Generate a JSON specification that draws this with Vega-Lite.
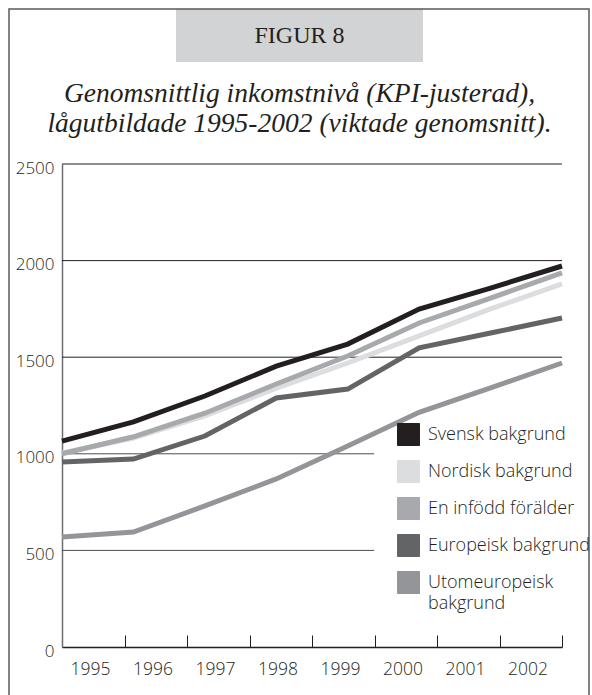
{
  "$schema": "https://vega.github.io/schema/vega-lite/v6.json",
  "background": "white",
  "padding": {"left": 8, "top": 8, "right": 0, "bottom": 0},
  "spacing": 53,
  "bounds": "flush",
  "vconcat": [
    {
      "spacing": 0,
      "bounds": "flush",
      "hconcat": [
        {
          "width": 167,
          "height": 53,
          "view": {"stroke": "#58595b", "strokeWidth": 1.5, "strokeDash": [167, 220, 53]},
          "data": {"values": []},
          "mark": {"type": "text"},
          "encoding": {"text": {"field": "t", "type": "nominal"}}
        },
        {
          "width": 247,
          "height": 53,
          "view": {"fill": "#d1d3d4", "stroke": "#58595b", "strokeWidth": 1.5, "strokeDash": [247, 353]},
          "title": {
            "text": ["Genomsnittlig inkomstnivå (KPI-justerad),", "lågutbildade 1995-2002 (viktade genomsnitt)."],
            "orient": "bottom",
            "anchor": "middle",
            "frame": "group",
            "offset": 18,
            "font": "Liberation Serif",
            "fontStyle": "italic",
            "fontWeight": "normal",
            "fontSize": 27.5,
            "lineHeight": 30,
            "color": "#231f20"
          },
          "data": {"values": [{"label": "FIGUR 8"}]},
          "mark": {"type": "text", "font": "Liberation Serif", "fontSize": 24, "letterSpacing": 3, "color": "#231f20", "align": "center", "baseline": "middle"},
          "encoding": {"text": {"field": "label", "type": "nominal"}}
        },
        {
          "width": 166,
          "height": 53,
          "view": {"stroke": "#58595b", "strokeWidth": 1.5, "strokeDash": [219, 219]},
          "data": {"values": []},
          "mark": {"type": "text"},
          "encoding": {"text": {"field": "t", "type": "nominal"}}
        }
      ]
    },
    {
      "width": 580,
      "height": 634,
      "view": {"stroke": "#58595b", "strokeWidth": 1.5, "strokeDash": [0, 580, 634, 580, 634]},
      "layer": [
        {
          "data": {"values": [{"g": 1500}, {"g": 2000}, {"g": 2500}]},
          "mark": {"type": "rule", "color": "#231f20", "strokeWidth": 1},
          "encoding": {
            "y": {"field": "g", "type": "quantitative", "title": null, "scale": {"domain": [0, 2500], "range": [585, 102], "nice": false, "zero": false}},
            "x": {"datum": 1995, "type": "quantitative", "title": null, "scale": {"domain": [1995, 2002], "range": [53, 553], "nice": false, "zero": false}},
            "x2": {"datum": 2002}
          }
        },
        {
          "data": {"values": [{"g": 500}, {"g": 1000}]},
          "mark": {"type": "rule", "color": "#4d4d4f", "strokeWidth": 1},
          "encoding": {
            "y": {"field": "g", "type": "quantitative", "title": null},
            "x": {"datum": 1995, "type": "quantitative", "title": null},
            "x2": {"datum": 1999.37}
          }
        },
        {
          "data": {"values": [
            {"year": 1995, "group": "Svensk bakgrund", "value": 1066},
            {"year": 1996, "group": "Svensk bakgrund", "value": 1165},
            {"year": 1997, "group": "Svensk bakgrund", "value": 1299},
            {"year": 1998, "group": "Svensk bakgrund", "value": 1454},
            {"year": 1999, "group": "Svensk bakgrund", "value": 1568},
            {"year": 2000, "group": "Svensk bakgrund", "value": 1749},
            {"year": 2001, "group": "Svensk bakgrund", "value": 1858},
            {"year": 2002, "group": "Svensk bakgrund", "value": 1972},
            {"year": 1995, "group": "Nordisk bakgrund", "value": 1004},
            {"year": 1996, "group": "Nordisk bakgrund", "value": 1082},
            {"year": 1997, "group": "Nordisk bakgrund", "value": 1196},
            {"year": 1998, "group": "Nordisk bakgrund", "value": 1340},
            {"year": 1999, "group": "Nordisk bakgrund", "value": 1470},
            {"year": 2000, "group": "Nordisk bakgrund", "value": 1610},
            {"year": 2001, "group": "Nordisk bakgrund", "value": 1750},
            {"year": 2002, "group": "Nordisk bakgrund", "value": 1879},
            {"year": 1995, "group": "En infödd förälder", "value": 1000},
            {"year": 1996, "group": "En infödd förälder", "value": 1088},
            {"year": 1997, "group": "En infödd förälder", "value": 1210},
            {"year": 1998, "group": "En infödd förälder", "value": 1361},
            {"year": 1999, "group": "En infödd förälder", "value": 1506},
            {"year": 2000, "group": "En infödd förälder", "value": 1677},
            {"year": 2001, "group": "En infödd förälder", "value": 1806},
            {"year": 2002, "group": "En infödd förälder", "value": 1936},
            {"year": 1995, "group": "Europeisk bakgrund", "value": 958},
            {"year": 1996, "group": "Europeisk bakgrund", "value": 973},
            {"year": 1997, "group": "Europeisk bakgrund", "value": 1092},
            {"year": 1998, "group": "Europeisk bakgrund", "value": 1289},
            {"year": 1999, "group": "Europeisk bakgrund", "value": 1335},
            {"year": 2000, "group": "Europeisk bakgrund", "value": 1548},
            {"year": 2001, "group": "Europeisk bakgrund", "value": 1625},
            {"year": 2002, "group": "Europeisk bakgrund", "value": 1703},
            {"year": 1995, "group": "Utomeuropeisk bakgrund", "value": 569},
            {"year": 1996, "group": "Utomeuropeisk bakgrund", "value": 595},
            {"year": 1997, "group": "Utomeuropeisk bakgrund", "value": 730},
            {"year": 1998, "group": "Utomeuropeisk bakgrund", "value": 870},
            {"year": 1999, "group": "Utomeuropeisk bakgrund", "value": 1040},
            {"year": 2000, "group": "Utomeuropeisk bakgrund", "value": 1215},
            {"year": 2001, "group": "Utomeuropeisk bakgrund", "value": 1341},
            {"year": 2002, "group": "Utomeuropeisk bakgrund", "value": 1470}
          ]},
          "mark": {"type": "line", "strokeWidth": 5, "strokeJoin": "miter"},
          "encoding": {
            "x": {
              "field": "year", "type": "quantitative", "title": null,
              "axis": {
                "orient": "bottom", "offset": -49, "grid": false, "title": null,
                "values": [1995, 1995.875, 1996.75, 1997.625, 1998.5, 1999.375, 2000.25, 2001.125, 2002],
                "domainColor": "#231f20", "domainWidth": 1.5,
                "tickColor": "#231f20", "tickWidth": 1, "tickSize": -12,
                "labelExpr": "datum.value < 2001.9 ? '' + (1995 + round((datum.value - 1995) / 0.875)) : ''",
                "labelOffset": 28,
                "labelFont": "Open Sans", "labelFontSize": 17.5, "labelFontWeight": 300, "labelColor": "#231f20",
                "labelPadding": 25, "labelFlush": false, "labelOverlap": false, "labelBound": false
              }
            },
            "y": {
              "field": "value", "type": "quantitative", "title": null,
              "axis": {
                "orient": "left", "offset": -53, "grid": false, "ticks": false, "title": null,
                "values": [0, 500, 1000, 1500, 2000, 2500], "format": "d",
                "domainColor": "#6d6e71", "domainWidth": 1.5,
                "labelFont": "Open Sans", "labelFontSize": 17, "labelFontWeight": 300, "labelColor": "#231f20",
                "labelPadding": 8, "labelOffset": 4, "labelFlush": false, "labelOverlap": false, "labelBound": false
              }
            },
            "color": {
              "field": "group", "type": "nominal",
              "scale": {
                "domain": ["Svensk bakgrund", "Nordisk bakgrund", "En infödd förälder", "Europeisk bakgrund", "Utomeuropeisk bakgrund"],
                "range": ["#231f20", "#dcdddf", "#a7a9ac", "#636466", "#939598"]
              },
              "legend": {
                "orient": "none", "legendX": 388, "legendY": 414, "title": null,
                "symbolType": "square", "symbolSize": 484, "symbolStrokeWidth": 1, "symbolStrokeColor": "#231f20",
                "labelFont": "Open Sans", "labelFontSize": 18, "labelFontWeight": 300, "labelColor": "#231f20",
                "labelOffset": 8, "rowPadding": 10, "labelLimit": 300,
                "labelExpr": "datum.label == 'Utomeuropeisk bakgrund' ? ['Utomeuropeisk', 'bakgrund'] : datum.label",
                "encode": {
                  "symbols": {"update": {"fill": {"scale": "color", "field": "value"}, "fillOpacity": {"value": 1}, "stroke": {"value": "#231f20"}, "strokeWidth": {"value": 1}}},
                  "labels": {"update": {"lineHeight": {"value": 21}}}
                }
              }
            }
          }
        }
      ]
    }
  ]
}
